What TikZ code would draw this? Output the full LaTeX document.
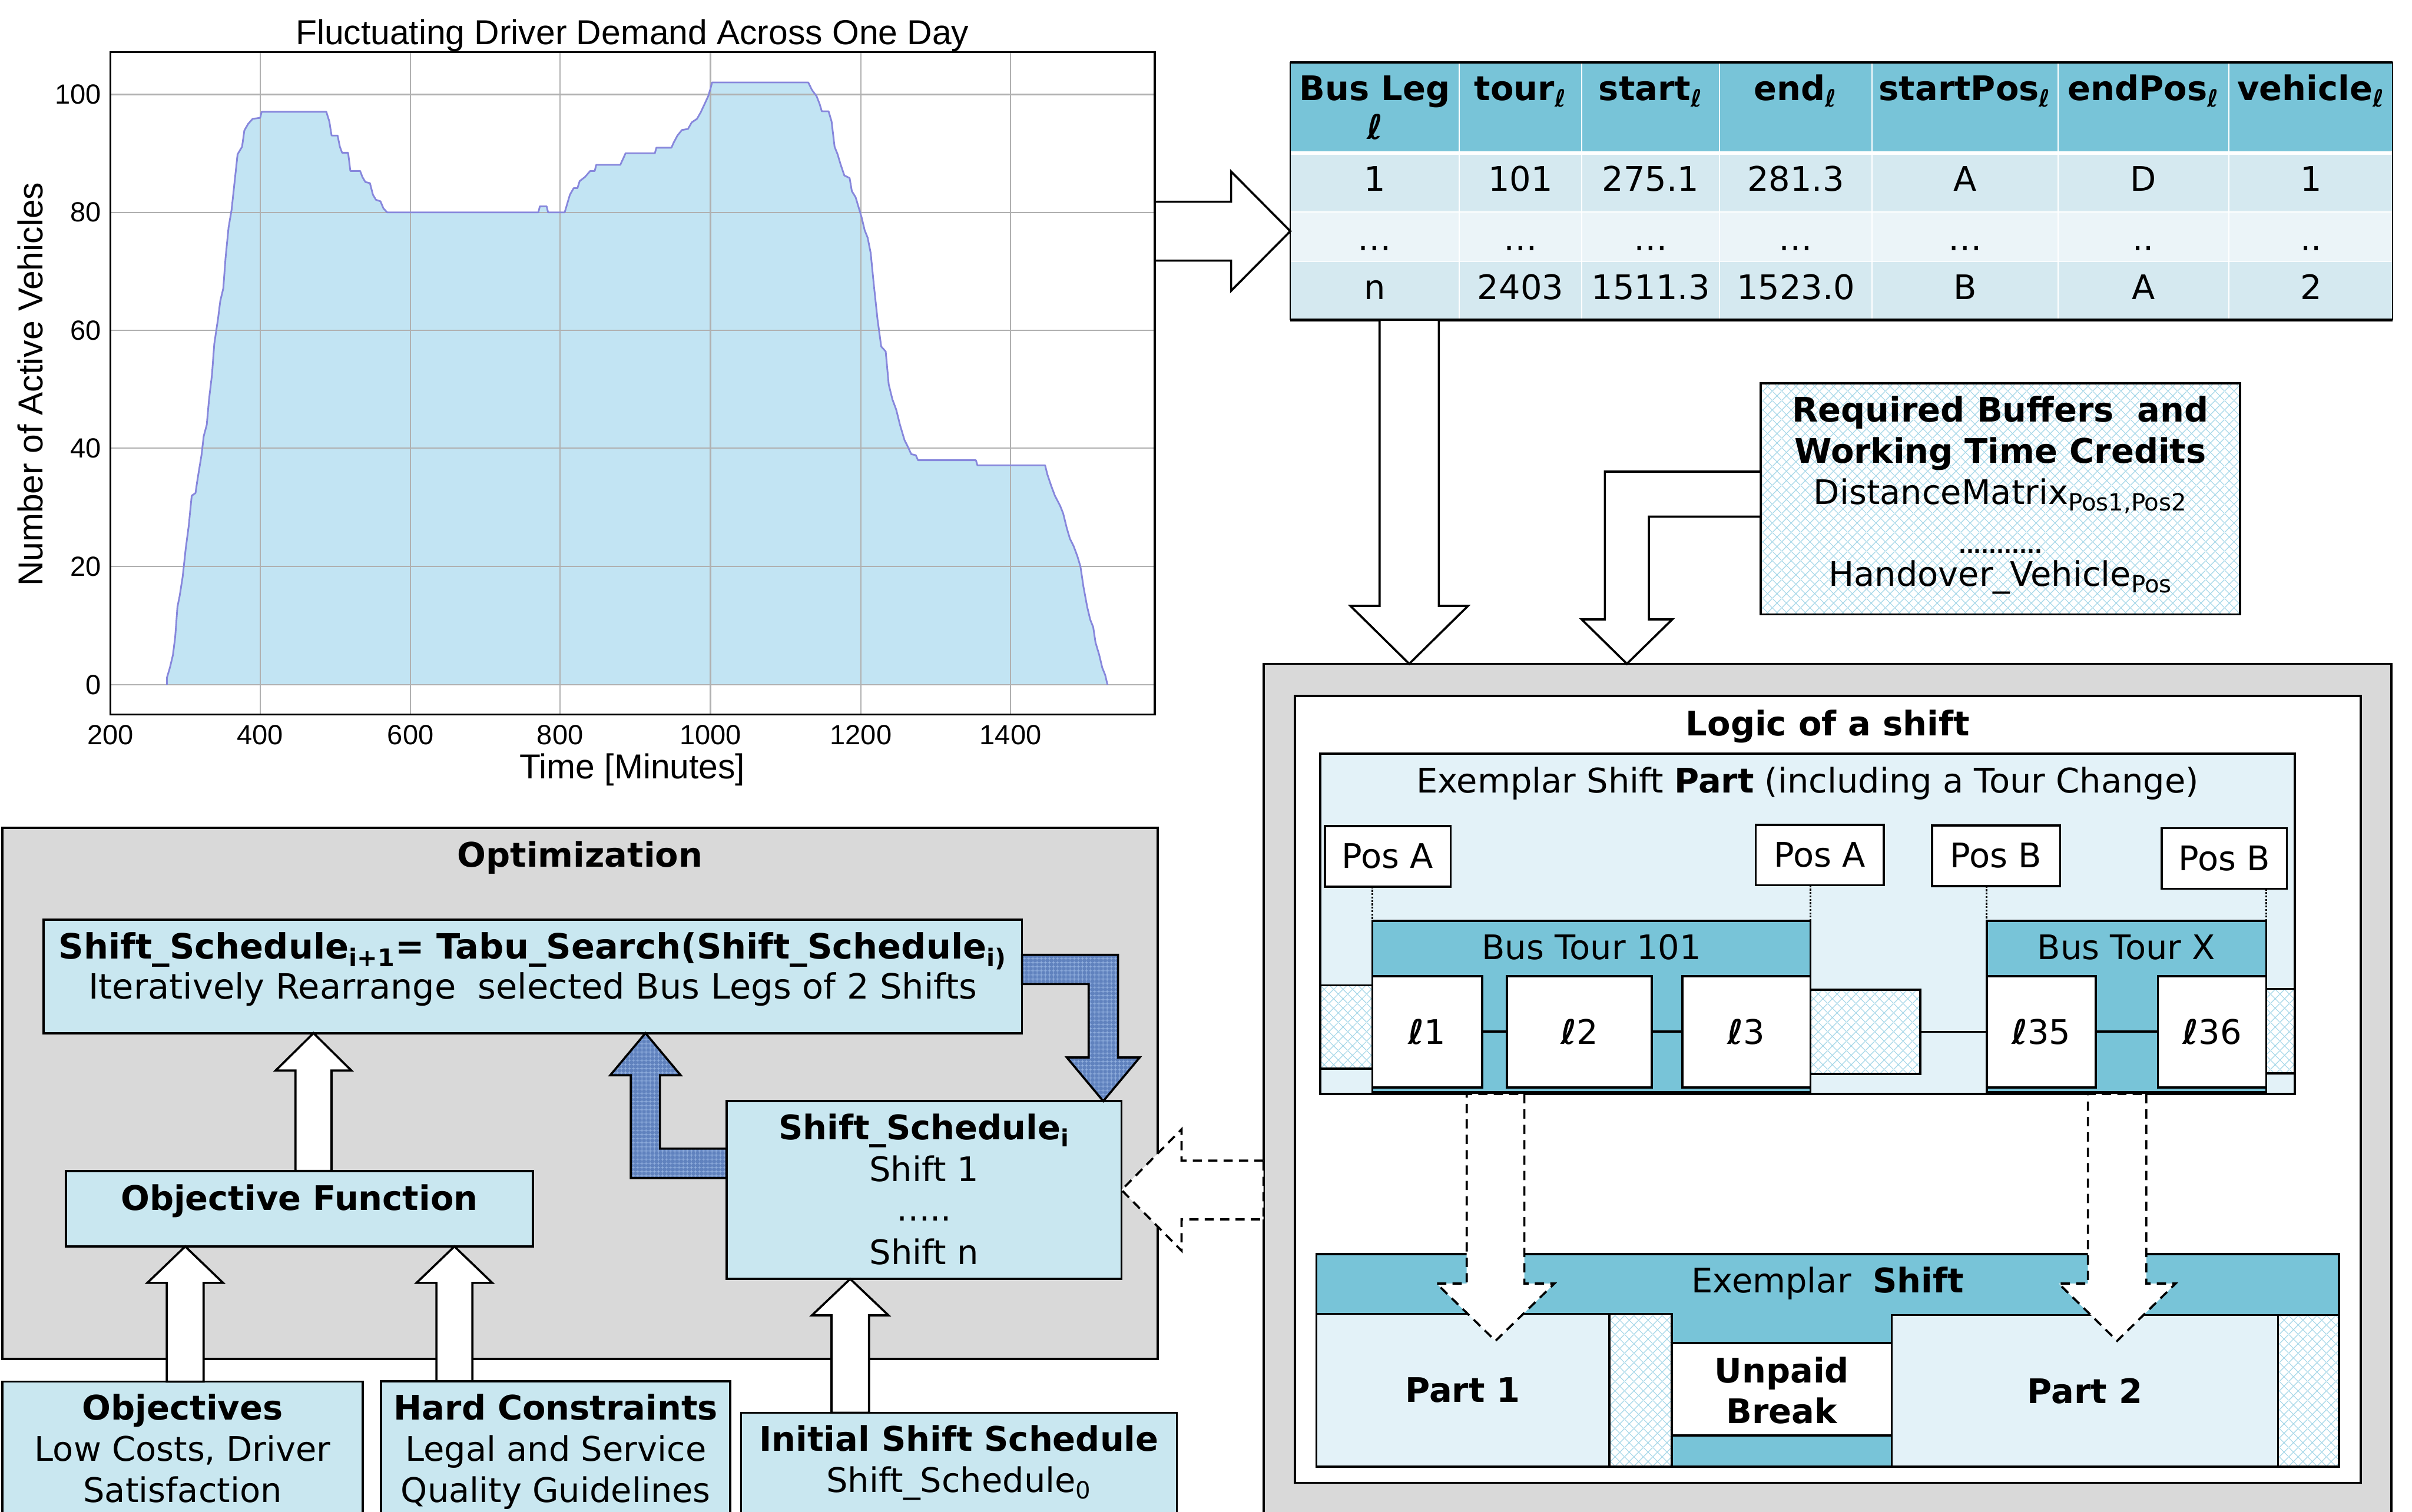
\documentclass[tikz,border=0pt]{standalone}
\usepackage{fontspec}
\setmainfont{DejaVu Sans}
\newfontfamily\chartfont{Liberation Sans}
\usetikzlibrary{calc,fit,patterns.meta}

\definecolor{hdrblue}{RGB}{120,196,216}
\definecolor{rowA}{RGB}{213,233,240}
\definecolor{rowB}{RGB}{235,244,248}
\definecolor{boxblue}{RGB}{201,231,240}
\definecolor{panelblue}{RGB}{227,242,248}
\definecolor{graybg}{RGB}{217,217,217}
\definecolor{areafill}{RGB}{194,228,243}
\definecolor{arealine}{RGB}{135,135,220}
\definecolor{gridgray}{RGB}{176,176,176}
\definecolor{hatchcol}{RGB}{165,215,232}
\definecolor{arrowblue}{RGB}{96,130,190}
\definecolor{arrowlight}{RGB}{150,180,225}

\tikzdeclarepattern{
  name=hatchx,
  type=uncolored,
  bounding box={(0pt,0pt) and (6pt,6pt)},
  tile size={(6pt,6pt)},
  code={\draw[line width=0.45pt] (0pt,0pt) -- (6pt,6pt) (0pt,6pt) -- (6pt,0pt);}
}
\tikzdeclarepattern{
  name=weave,
  type=uncolored,
  bounding box={(0pt,0pt) and (2.5pt,2.5pt)},
  tile size={(2.5pt,2.5pt)},
  code={\draw[line width=0.4pt] (0pt,1.25pt) -- (2.5pt,1.25pt) (1.25pt,0pt) -- (1.25pt,2.5pt);}
}

\newcommand\fs{\fontsize{22}{26}\selectfont}

% vertical block arrow: style, base, tip, shaft half, head half, signed head length
\newcommand\vblock[6]{%
  \path[#1] let \p1=#2, \p2=#3 in
    ({\x2+#4},{\y1}) -- ({\x2+#4},{\y2+(#6)}) -- ({\x2+#5},{\y2+(#6)}) -- ({\x2},{\y2})
    -- ({\x2-#5},{\y2+(#6)}) -- ({\x2-#4},{\y2+(#6)}) -- ({\x2-#4},{\y1}) -- cycle;}
% horizontal block arrow
\newcommand\hblock[6]{%
  \path[#1] let \p1=#2, \p2=#3 in
    ({\x1},{\y2+#4}) -- ({\x2+(#6)},{\y2+#4}) -- ({\x2+(#6)},{\y2+#5}) -- ({\x2},{\y2})
    -- ({\x2+(#6)},{\y2-#5}) -- ({\x2+(#6)},{\y2-#4}) -- ({\x1},{\y2-#4}) -- cycle;}

\tikzset{
  box/.style={draw=black,line width=1.4pt,inner sep=0pt,outer sep=0pt},
  hatchbox/.style={box,preaction={fill=white},pattern=hatchx,pattern color=hatchcol},
  txt/.style={inner sep=0pt,outer sep=0pt,font=\fs},
  btxt/.style={inner sep=0pt,outer sep=0pt,font=\fs\bfseries},
  harrowst/.style={draw=black,fill=white,line width=1.4pt,line join=miter,miter limit=10},
  darrowst/.style={harrowst,dash pattern=on 6pt off 4pt},
  barrowst/.style={draw=black,line width=1.4pt,line join=miter,preaction={fill=arrowblue},pattern=weave,pattern color=arrowlight},
  ctick/.style={inner sep=0pt,font=\chartfont\fontsize{18}{20}\selectfont},
  clab/.style={inner sep=0pt,font=\chartfont\fontsize{22.5}{26}\selectfont},
}

\def\curvepts{(222,1354) -- (222,1340) -- (226,1320) -- (230,1295) -- (233,1260) -- (236,1200) -- (239,1178) -- (243,1140) -- (247,1085) -- (251,1040) -- (255,980) -- (260,975) -- (263,945) -- (268,900) -- (271,862) -- (275,840) -- (278,790) -- (282,740) -- (285,680) -- (290,630) -- (293,595) -- (297,570) -- (300,510) -- (304,450) -- (308,415) -- (312,360) -- (316,305) -- (322,290) -- (325,258) -- (330,245) -- (336,235) -- (346,233) -- (348,221) -- (434,221) -- (438,240) -- (441,268) -- (449,268) -- (452,290) -- (455,302) -- (463,302) -- (466,338) -- (479,338) -- (482,350) -- (486,360) -- (492,362) -- (496,385) -- (500,395) -- (506,398) -- (510,412) -- (515,420) -- (716,420) -- (718,408) -- (727,408) -- (729,420) -- (751,420) -- (754,405) -- (758,385) -- (763,372) -- (768,372) -- (771,358) -- (778,350) -- (785,338) -- (791,338) -- (793,326) -- (825,326) -- (829,313) -- (832,303) -- (871,303) -- (873,292) -- (893,292) -- (896,282) -- (901,268) -- (907,257) -- (915,255) -- (920,242) -- (927,235) -- (932,222) -- (937,206) -- (942,190) -- (945,175) -- (947,163) -- (1075,163) -- (1080,178) -- (1086,190) -- (1090,205) -- (1093,220) -- (1102,220) -- (1106,240) -- (1110,290) -- (1114,305) -- (1118,325) -- (1123,347) -- (1130,352) -- (1133,378) -- (1138,390) -- (1142,410) -- (1146,430) -- (1150,455) -- (1154,470) -- (1158,500) -- (1162,560) -- (1167,630) -- (1172,685) -- (1178,695) -- (1182,760) -- (1187,790) -- (1192,810) -- (1197,840) -- (1203,870) -- (1208,885) -- (1212,898) -- (1218,900) -- (1221,910) -- (1298,910) -- (1300,920) -- (1390,920) -- (1393,938) -- (1398,960) -- (1403,980) -- (1410,1000) -- (1414,1015) -- (1419,1045) -- (1423,1065) -- (1428,1080) -- (1433,1100) -- (1437,1120) -- (1441,1160) -- (1446,1200) -- (1450,1225) -- (1454,1240) -- (1457,1270) -- (1462,1295) -- (1466,1320) -- (1470,1335) -- (1473,1354)}

\begin{document}
\begin{tikzpicture}[x=1pt,y=-1pt]
\useasboundingbox[fill=white] (0,0) rectangle (1568,983);
\clip (0,0) rectangle (1568,983);

% ================= Chart =================
\begin{scope}[x=0.48877pt,y=-0.32882pt]
  \fill[areafill] \curvepts -- cycle;
  \foreach \gx in {346,546,745,945,1145,1344}
    \draw[gridgray,line width=0.9pt] (\gx,103) -- (\gx,1413);
  \foreach \gy in {187,420,653,886,1120,1354}
    \draw[gridgray,line width=0.9pt] (147,\gy) -- (1536,\gy);
  \draw[arealine,line width=1.1pt,line join=round] \curvepts;
  \node[draw,line width=1.3pt,inner sep=0pt,outer sep=0pt,fit={(147,103) (1536,1413)}] (plot) {};
  \foreach \gx/\lab in {147/200,346/400,546/600,745/800,945/1000,1145/1200,1344/1400}
    \node[ctick,anchor=base] (xt\lab) at (\gx,1472) {\lab};
  \foreach \gy/\lab in {1354/0,1120/20,886/40,653/60,420/80,187/100}
    \node[ctick,anchor=east] (yt\lab) at (135,\gy) {\lab};
  \node[clab,anchor=base] (ctitle) at (841,88) {Fluctuating Driver Demand Across One Day};
  \node[clab,anchor=base] (xlab) at (841,1540) {Time [Minutes]};
  \node[clab,rotate=90] (ylab) at (40,760) {Number of Active Vehicles};
\end{scope}

% ================= Table =================
\fill[hdrblue] (838.8,40.6) rectangle (1555.5,98.4);
\fill[rowA] (838.8,100.6) rectangle (1555.5,137.4);
\fill[rowB] (838.8,138.1) rectangle (1555.5,169.8);
\fill[rowA] (838.8,170.4) rectangle (1555.5,208);
\foreach \cx in {948.7,1028.2,1117.9,1216.9,1337.8,1449.0}
  \draw[white,line width=0.7pt] (\cx,40.6) -- (\cx,208);
\node[draw,line width=0.8pt,inner sep=0pt,outer sep=0pt,fit={(838.8,40.6) (1555.5,208)}] (tbl) {};
\draw[line width=1.8pt] (tbl.north west) -- (tbl.north east);
\draw[line width=1.8pt] (tbl.south west) -- (tbl.south east);

\node[btxt,anchor=base] (hd1) at (893.75,65.2) {Bus Leg};
\node[btxt,anchor=base] (hd1b) at (893.75,90.7) {ℓ};
\node[btxt,anchor=base] (hd2) at (988.45,65.2) {tour\textsubscript{ℓ}};
\node[btxt,anchor=base] (hd3) at (1073.05,65.2) {start\textsubscript{ℓ}};
\node[btxt,anchor=base] (hd4) at (1167.4,65.2) {end\textsubscript{ℓ}};
\node[btxt,anchor=base] (hd5) at (1277.35,65.2) {startPos\textsubscript{ℓ}};
\node[btxt,anchor=base] (hd6) at (1393.4,65.2) {endPos\textsubscript{ℓ}};
\node[btxt,anchor=base] (hd7) at (1502.25,65.2) {vehicle\textsubscript{ℓ}};

\foreach \cx/\ra/\rb/\rc [count=\i] in {893.75/1/…/n, 988.45/101/…/2403, 1073.05/275.1/…/1511.3, 1167.4/281.3/…/1523.0, 1277.35/A/…/B, 1393.4/D/../A, 1502.25/1/../2}{
  \node[txt,anchor=base] (ra\i) at (\cx,124.3) {\ra};
  \node[txt,anchor=base] (rb\i) at (\cx,163) {\rb};
  \node[txt,anchor=base] (rc\i) at (\cx,194.6) {\rc};
}

% ================= Buffers box =================
\node[hatchbox,fit={(1144.7,249.3) (1456.2,399.5)}] (buf) {};
\node[btxt,anchor=base] (bufL1) at (buf.center |- 0,274.2) {Required Buffers\ \ and};
\node[btxt,anchor=base] (bufL2) at (buf.center |- 0,301) {Working Time Credits};
\node[txt,anchor=base] (bufL3) at (buf.center |- 0,327.7) {DistanceMatrix\textsubscript{Pos1,Pos2}};
\node[inner sep=0pt,anchor=base,font=\fontsize{13}{13}\selectfont\bfseries] (bufL4) at (buf.center |- 0,359.5) {...........};
\node[txt,anchor=base] (bufL5) at (buf.center |- 0,381.2) {Handover\_Vehicle\textsubscript{Pos}};

% ================= Logic of a shift =================
\node[box,fill=graybg,fit={(821.4,431.6) (1554.6,1000)}] (logic) {};
\node[box,fill=white,fit={(841.7,452.4) (1534.6,964.1)}] (logicIn) {};
\node[btxt,anchor=base] (logicT) at (logicIn.center |- 0,478.3) {Logic of a shift};

\node[box,fill=panelblue,fit={(858.3,490) (1491.8,711.3)}] (part) {};
\node[txt,anchor=base] (partT) at (part.center |- 0,515.6) {Exemplar Shift \textbf{Part} (including a Tour Change)};

\node[box,fill=white,fit={(861.2,537) (943,576.4)}] (posA1) {};
\node[box,fill=white,fit={(1141.3,536.3) (1224.6,575.6)}] (posA2) {};
\node[box,fill=white,fit={(1255.9,536.6) (1339.2,576)}] (posB1) {};
\node[box,fill=white,fit={(1405.3,538.4) (1486.6,577.8)}] (posB2) {};
\node[txt] (posA1T) at (posA1.center) {Pos A};
\node[txt] (posA2T) at (posA2.center) {Pos A};
\node[txt] (posB1T) at (posB1.center) {Pos B};
\node[txt] (posB2T) at (posB2.center) {Pos B};

\node[hatchbox,fit={(858.3,640.6) (892.1,694.7)}] (hz1) {};
\node[hatchbox,fit={(1177,643.5) (1248.3,698.2)}] (hz2) {};
\node[hatchbox,fit={(1473.2,642.9) (1491.8,697.9)}] (hz3) {};

\node[box,fill=hdrblue,fit={(892.1,598.8) (1177,710.2)}] (tour1) {};
\node[box,fill=hdrblue,fit={(1291.5,598.8) (1473.2,710.2)}] (tourX) {};
\node[txt,anchor=base] (tour1T) at (tour1.center |- 0,623.8) {Bus Tour 101};
\node[txt,anchor=base] (tourXT) at (tourX.center |- 0,623.8) {Bus Tour X};

\draw[densely dotted,line width=1.2pt] (tour1.north west |- posA1.south) -- (tour1.north west);
\draw[densely dotted,line width=1.2pt] (tour1.north east |- posA2.south) -- (tour1.north east);
\draw[densely dotted,line width=1.2pt] (tourX.north west |- posB1.south) -- (tourX.north west);
\draw[densely dotted,line width=1.2pt] (tourX.north east |- posB2.south) -- (tourX.north east);

\node[box,fill=white,fit={(892.1,634.6) (963.5,707)}] (l1) {};
\node[box,fill=white,fit={(979.6,634.6) (1073.8,707)}] (l2) {};
\node[box,fill=white,fit={(1093.6,634.6) (1177,707)}] (l3) {};
\node[box,fill=white,fit={(1291.5,634.6) (1362.4,707)}] (l35) {};
\node[box,fill=white,fit={(1402.8,634.6) (1473.2,707)}] (l36) {};
\node[txt] (l1T) at (l1.center) {{\bfseries ℓ}1};
\node[txt] (l2T) at (l2.center) {{\bfseries ℓ}2};
\node[txt] (l3T) at (l3.center) {{\bfseries ℓ}3};
\node[txt] (l35T) at (l35.center) {{\bfseries ℓ}35};
\node[txt] (l36T) at (l36.center) {{\bfseries ℓ}36};
\draw[line width=1.4pt] (l1.east) -- (l2.west);
\draw[line width=1.4pt] (l2.east) -- (l3.west);
\draw[line width=1.4pt] (hz2.east) -- (hz2.east -| l35.west);
\draw[line width=1.4pt] (l35.east) -- (l36.west);

% Exemplar shift
\node[box,fill=hdrblue,fit={(855.7,815.3) (1520.4,953.5)}] (shift) {};
\node[txt,anchor=base] (shiftT) at (shift.center |- 0,840.5) {Exemplar\ \ \textbf{Shift}};
\node[box,fill=panelblue,fit={(855.7,854.2) (1046.2,953.5)}] (p1) {};
\node[btxt] (p1T) at (p1.center) {Part 1};
\node[hatchbox,fit={(1046.2,854.2) (1086.7,953.5)}] (hz4) {};
\node[box,fill=white,fit={(1086.7,873.3) (1229.8,933.3)}] (brk) {};
\node[btxt,anchor=base] (brkT1) at (brk.center |- 0,898.9) {Unpaid};
\node[btxt,anchor=base] (brkT2) at (brk.center |- 0,925.6) {Break};
\node[box,fill=panelblue,fit={(1229.8,855) (1480.9,953.5)}] (p2) {};
\node[btxt] (p2T) at (p2.center) {Part 2};
\node[hatchbox,fit={(1480.9,855) (1520.4,953.5)}] (hz5) {};

% dashed arrows part -> shift
\coordinate (d1t) at (972.2,871.8);
\coordinate (d2t) at (1376.3,871.8);
\vblock{darrowst}{(part.south -| d1t)}{(d1t)}{18.75pt}{38.3pt}{37.3pt}
\vblock{darrowst}{(part.south -| d2t)}{(d2t)}{19pt}{38pt}{37.3pt}

% arrow chart -> table
\coordinate (a1t) at ($(tbl.north west)!0.6553!(tbl.south west)$);
\hblock{harrowst}{(plot.east |- a1t)}{(a1t)}{19.15pt}{38.8pt}{-38.5pt}

% arrow table -> logic
\vblock{harrowst}{(tbl.south -| 916.1,0)}{(logic.north -| 916.1,0)}{19.25pt}{38.25pt}{37.7pt}

% elbow arrow buffers -> logic
\draw[harrowst] (buf.west |- 0,306.6) -- (1043.3,306.6) -- (1043.3,402.7) -- (1028.2,402.7)
  -- (logic.north -| 1057.6,0) -- (1087.1,402.7) -- (1071.9,402.7) -- (1071.9,335.9)
  -- (buf.west |- 0,335.9) -- cycle;

% ================= Optimization =================
\node[box,fill=graybg,fit={(1.5,538.2) (752.5,883.5)}] (opt) {};
\node[btxt,anchor=base] (optT) at (opt.center |- 0,563.6) {Optimization};

\node[box,fill=boxblue,fit={(28.4,598) (664.4,671.7)}] (tabu) {};
\node[btxt,anchor=base,font=\fontsize{22.6}{26}\selectfont\bfseries] (tabuT1) at (tabu.center |- 0,623.4) {Shift\_Schedule\textsubscript{i+1}= Tabu\_Search(Shift\_Schedule\textsubscript{i)}};
\node[txt,anchor=base,font=\fontsize{22.6}{26}\selectfont] (tabuT2) at (tabu.center |- 0,649.4) {Iteratively Rearrange\ \ selected Bus Legs of 2 Shifts};

\node[box,fill=boxblue,fit={(42.8,761.3) (346.4,810.4)}] (objf) {};
\node[btxt,anchor=base] (objfT) at (objf.center |- 0,786.7) {Objective Function};

\node[box,fill=boxblue,fit={(472.3,715.9) (729.1,831.5)}] (ssi) {};
\node[btxt,anchor=base] (ssiT1) at (ssi.center |- 0,741.1) {Shift\_Schedule\textsubscript{i}};
\node[txt,anchor=base] (ssiT2) at (ssi.center |- 0,768) {Shift 1};
\node[txt,anchor=base] (ssiT3) at (ssi.center |- 0,793.9) {…..};
\node[txt,anchor=base] (ssiT4) at (ssi.center |- 0,822) {Shift n};

\node[box,fill=boxblue,fit={(1.5,898.3) (235.9,1000)}] (objs) {};
\node[btxt,anchor=base] (objsT1) at (objs.center |- 0,923.1) {Objectives};
\node[txt,anchor=base] (objsT2) at (objs.center |- 0,950) {Low Costs, Driver};
\node[txt,anchor=base] (objsT3) at (objs.center |- 0,976.9) {Satisfaction};

\node[box,fill=boxblue,fit={(247.8,898) (474.8,1000)}] (hard) {};
\node[btxt,anchor=base] (hardT1) at (hard.center |- 0,923.1) {Hard Constraints};
\node[txt,anchor=base] (hardT2) at (hard.center |- 0,950) {Legal and Service};
\node[txt,anchor=base] (hardT3) at (hard.center |- 0,976.9) {Quality Guidelines};

\node[box,fill=boxblue,fit={(481.8,918.5) (765,1000)}] (init) {};
\node[btxt,anchor=base] (initT1) at (init.center |- 0,943.4) {Initial Shift Schedule};
\node[txt,anchor=base] (initT2) at (init.center |- 0,970.2) {Shift\_Schedule\textsubscript{0}};

% white arrows
\vblock{harrowst}{(objf.north -| 203.8,0)}{(tabu.south -| 203.8,0)}{11.7pt}{24.6pt}{-24.3pt}
\vblock{harrowst}{(objs.north -| 120.4,0)}{(objf.south -| 120.4,0)}{11.95pt}{24.65pt}{-23.7pt}
\vblock{harrowst}{(hard.north -| 295.4,0)}{(objf.south -| 295.4,0)}{11.7pt}{24.65pt}{-23.7pt}
\vblock{harrowst}{(init.north -| 552.7,0)}{(ssi.south -| 552.7,0)}{12.2pt}{24.9pt}{-23.7pt}

% blue arrows
\draw[barrowst] (tabu.east |- 0,620.8) -- (726.8,620.8) -- (726.8,687.5) -- (740.9,687.5)
  -- (ssi.north -| 717.2,0) -- (693.5,687.5) -- (707.7,687.5) -- (707.7,639.8)
  -- (tabu.east |- 0,639.8) -- cycle;
\draw[barrowst] (ssi.west |- 0,765.9) -- (410.1,765.9) -- (410.1,699.1) -- (396.7,699.1)
  -- (tabu.south -| 419.6,0) -- (442.5,699.1) -- (429,699.1) -- (429,746.8)
  -- (ssi.west |- 0,746.8) -- cycle;

% dashed arrow logic -> schedule
\hblock{darrowst}{(logic.west |- ssi.east)}{(ssi.east)}{19.1pt}{39.45pt}{39pt}

\end{tikzpicture}
\end{document}
